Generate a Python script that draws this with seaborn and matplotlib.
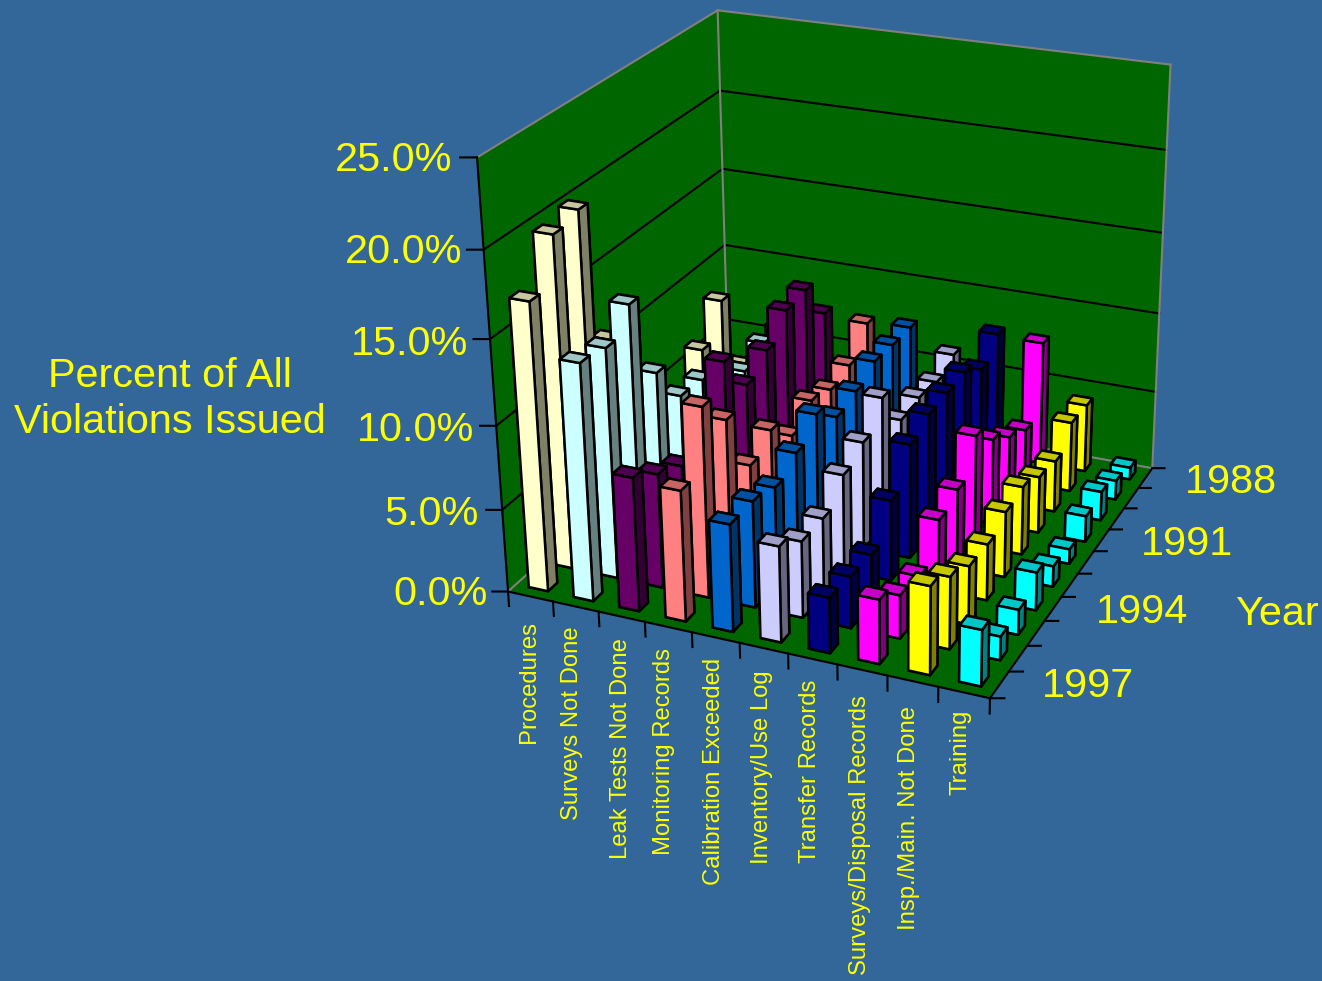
import numpy as np
import pandas as pd
import matplotlib
matplotlib.use('Agg')
import matplotlib.pyplot as plt
import seaborn as sns
from mpl_toolkits.mplot3d.art3d import Poly3DCollection

# Share of all violations issued, one list per category, newest year first
years = list(range(1997, 1987, -1))
procedures = [17.1, 19.8, 20.2, 11.5, 7.0, 5.0, 4.0, 6.3, 8.4, 3.0]
surveys_not_done = [14.1, 13.8, 15.2, 10.0, 7.4, 7.2, 6.0, 5.4, 6.1, 6.0]
leak_tests = [8.0, 6.9, 6.1, 7.0, 10.0, 7.4, 8.4, 9.8, 10.0, 7.4]
monitoring = [7.8, 11.4, 9.4, 5.4, 6.3, 4.7, 5.7, 5.2, 5.6, 7.2]
calibration = [6.4, 6.4, 5.9, 6.7, 7.8, 6.4, 6.8, 7.5, 7.4, 7.4]
inventory = [5.7, 4.6, 4.6, 5.9, 6.6, 8.1, 5.5, 5.7, 5.5, 6.1]
transfer = [3.3, 3.1, 3.0, 4.9, 7.0, 7.6, 7.7, 7.8, 6.8, 7.9]
surveys_disposal = [3.8, 2.6, 2.3, 4.3, 4.8, 6.8, 5.3, 4.2, 3.4, 7.8]
insp_main = [5.2, 4.3, 3.5, 3.4, 4.0, 4.2, 3.5, 3.2, 4.4, 4.3]
training = [3.3, 1.4, 1.5, 2.3, 1.25, 0.9, 1.6, 1.8, 1.2, 0.75]

categories = ['Procedures', 'Surveys Not Done', 'Leak Tests Not Done', 'Monitoring Records',
              'Calibration Exceeded', 'Inventory/Use Log', 'Transfer Records',
              'Surveys/Disposal Records', 'Insp./Main. Not Done', 'Training']
series = [procedures, surveys_not_done, leak_tests, monitoring, calibration,
          inventory, transfer, surveys_disposal, insp_main, training]
bar_colors = ['#FFFFCC', '#CCFFFF', '#660066', '#FF8080', '#0066CC',
              '#CCCCFF', '#000080', '#FF00FF', '#FFFF00', '#00FFFF']
z_ticks = [0, 5, 10, 15, 20, 25]

BG = '#336699'
WALL = '#006600'
TXT = '#FFFF00'
W, H = 1322, 981

sns.set_theme(style='white', rc={'figure.facecolor': BG, 'savefig.facecolor': BG})
plt.rcParams['font.family'] = ['Liberation Sans', 'DejaVu Sans']

df = pd.DataFrame({'category': np.repeat(np.arange(len(categories)), len(years)),
                   'row': np.tile(np.arange(len(years)), len(categories)),
                   'value': np.concatenate(series)})
palette = sns.color_palette(bar_colors)

fig = plt.figure(figsize=(W / 100, H / 100), dpi=100)
side = 823.0
ax = fig.add_axes([419.8 / W, 232.8 / H, side / W, side / H], projection='3d', computed_zorder=False)
ax.set_axis_off()
ax.patch.set_visible(False)

nx, ny, zmax = len(categories), len(years), z_ticks[-1]

# Floor and the two back walls
walls = [[(0, 0, 0), (nx, 0, 0), (nx, ny, 0), (0, ny, 0)],
         [(0, 0, 0), (0, ny, 0), (0, ny, zmax), (0, 0, zmax)],
         [(0, ny, 0), (nx, ny, 0), (nx, ny, zmax), (0, ny, zmax)]]
ax.add_collection3d(Poly3DCollection(walls, facecolor=WALL, edgecolor='none', zorder=1), autolim=False)


def seg(a, b, color='black', lw=1.5, z=2):
    ax.plot([a[0], b[0]], [a[1], b[1]], [a[2], b[2]], color=color, lw=lw, zorder=z,
            solid_capstyle='projecting')


for z in z_ticks[1:-1]:
    seg((0, 0, z), (0, ny, z))
    seg((0, ny, z), (nx, ny, z))

gray = '#808080'
seg((0, 0, 0), (0, ny, 0), gray)
seg((0, ny, 0), (nx, ny, 0), gray)
seg((0, ny, 0), (0, ny, zmax), gray)
seg((nx, ny, 0), (nx, ny, zmax), gray)
seg((0, 0, zmax), (0, ny, zmax), gray)
seg((0, ny, zmax), (nx, ny, zmax), gray)

# Front edges and tick marks
seg((0, 0, 0), (0, 0, zmax))
seg((0, 0, 0), (nx, 0, 0))
seg((nx, 0, 0), (nx, ny, 0))
for z in z_ticks:
    seg((0, 0, z), (-0.284, -0.118, z))
for c in range(nx + 1):
    seg((c, 0, 0), (c, 0, -0.9))
for r in range(ny + 1):
    seg((nx, r, 0), (nx + 0.241, r + 0.102, 0))

# Bars, painted from the back row forward and left to right
bw, bd = 0.43, 0.37
order = df.sort_values(['row', 'category'], ascending=[False, True])
for i, (_, b) in enumerate(order.iterrows()):
    c = int(b['category'])
    base = np.array(palette[c])
    faces = [base * 0.5, base * 0.78, base, base * 0.5, base * 0.5, base * 0.5]
    ax.bar3d(c + 0.5 - bw / 2, b['row'] + 0.5 - bd / 2, 0, bw, bd, b['value'],
             color=faces, shade=False, edgecolor='black', linewidth=1.8, zorder=10 + i)

ax.set_xlim(0, nx)
ax.set_ylim(0, ny)
ax.set_zlim(0, zmax)
ax.view_init(23.805, -66.246, 0.566)
ax.set_proj_type('persp', focal_length=0.5696)
ax.set_box_aspect((1, 0.9856, 0.8976))


def label(px, py, s, **kw):
    fig.text(px / W, 1 - py / H, s, color=TXT, **kw)


big = 29.8
for z, (px, py) in zip(z_ticks, [(488, 594), (479, 514), (474, 430), (468, 344), (462, 252), (452, 160)]):
    label(px, py, f'{z:.1f}%', fontsize=big, ha='right', va='center')
for y, (px, py) in zip([1988, 1991, 1994, 1997], [(1231, 482), (1187, 544), (1142, 612), (1088, 686)]):
    label(px, py, str(y), fontsize=big, ha='center', va='center')
label(1277, 614, 'Year', fontsize=big, ha='center', va='center')
label(170, 376, 'Percent of All', fontsize=big, ha='center', va='center')
label(170, 422, 'Violations Issued', fontsize=big, ha='center', va='center')

cat_x = [529, 572, 621, 664, 714, 762, 810, 860, 909, 960]
cat_top = [621, 626, 638, 648, 658, 670, 680, 695, 706, 710]
for name, px, py in zip(categories, cat_x, cat_top):
    label(px, py, name, fontsize=17.2, rotation=90, ha='center', va='top')

fig.savefig('out.png', dpi=100)
